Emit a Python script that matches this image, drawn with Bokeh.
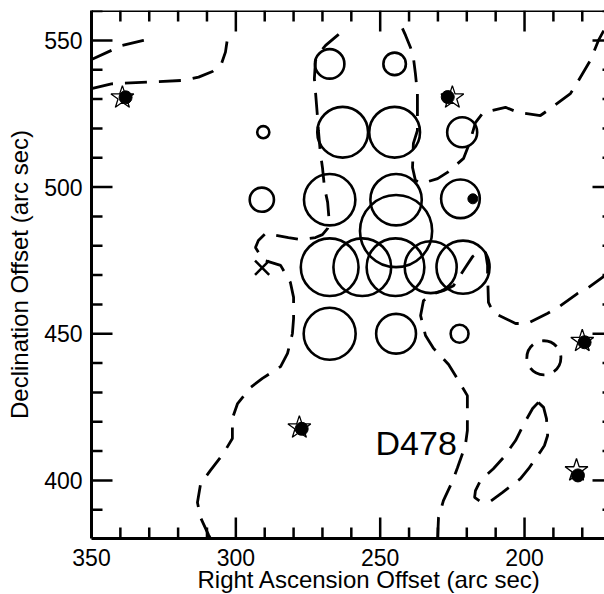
import math
from bokeh.plotting import figure
from bokeh.models import Range1d, SingleIntervalTicker, Label, Span, Title
from bokeh.embed import file_html
from bokeh.resources import INLINE

# ---------------- data ----------------
x_start, x_end = 350, 172.3
y_start, y_end = 380.2, 560.2

# tick positions
x_major = [350, 300, 250, 200]
x_minor = [340, 330, 320, 310, 290, 280, 270, 260, 240, 230, 220, 210, 190, 180]
y_major = [400, 450, 500, 550]
y_minor = [390, 410, 420, 430, 440, 460, 470, 480, 490, 510, 520, 530, 540, 560]

# open circles (position and radius, arc sec)
circ_x = [267.5, 245.0, 290.5, 263.0, 245.0, 221.6, 291.0, 267.5, 244.5, 222.2,
          244.5, 267.5, 256.2, 244.7, 232.5, 221.3, 267.5, 244.5, 222.5]
circ_y = [542.0, 542.0, 518.7, 518.7, 518.7, 518.7, 495.7, 495.7, 495.7, 496.0,
          485.0, 472.7, 472.7, 472.7, 472.7, 472.7, 450.0, 450.0, 450.0]
circ_r = [5.1, 3.9, 2.1, 8.8, 8.8, 5.2, 4.2, 8.9, 8.9, 6.7,
          12.5, 10.0, 10.0, 10.0, 9.0, 9.2, 9.0, 6.9, 3.1]

# stars and their filled dots
star_x = [339.3, 225.0, 180.0, 182.0, 278.0]
star_y = [530.5, 530.5, 447.5, 403.4, 418.0]
dot_x = [338.2, 226.6, 179.2, 181.5, 277.2]
dot_y = [530.6, 530.7, 447.1, 401.7, 417.6]

# filled dot inside a circle
fdot_x = [217.9]
fdot_y = [496.0]

# X marker
xm_x = [290.9]
xm_y = [472.5]

# dashed contours
c1_x = [350.0, 343.1, 339.3, 332.0, 328.9]
c1_y = [543.5, 546.6, 548.3, 550.0, 550.7]

c2_x = [350.0, 343.1, 329.9, 317.8, 312.9, 308.1, 305.0, 303.6, 302.9]
c2_y = [533.6, 535.2, 535.8, 536.4, 537.5, 539.4, 542.0, 546.0, 550.7]

c3_x = [308.8, 309.5, 312.2, 313.3, 312.2, 308.8, 304.3, 301.2, 301.2, 299.4,
        294.9, 290.8, 284.5, 282.1, 280.4, 280.0, 280.0, 281.1, 284.5, 288.7,
        290.4, 293.2, 292.2, 289.7, 281.8, 277.6, 272.4, 270.0, 268.2, 267.6,
        268.2, 269.3, 270.0, 270.7, 271.4, 271.7, 272.4, 272.8, 272.4, 270.7,
        268.9, 264.8, 263.1]
c3_y = [380.2, 381.5, 387.3, 392.5, 398.9, 403.4, 409.2, 414.3, 421.1, 426.2,
        431.7, 434.8, 438.8, 443.3, 450.1, 455.2, 462.4, 467.5, 473.3, 474.6,
        475.0, 479.4, 481.8, 484.2, 482.8, 482.1, 482.8, 483.8, 485.9, 487.6,
        494.8, 499.9, 506.7, 511.5, 519.3, 523.7, 532.3, 537.0, 543.2, 546.2,
        548.3, 551.7, 553.4]

c4_x = [242.3, 241.2, 239.5, 238.5, 237.8, 237.1, 237.1, 237.1, 238.5, 238.8,
        237.8, 235.7, 230.1, 226.7, 221.1, 219.1, 217.0, 214.3, 206.6, 202.1,
        194.5, 191.0, 184.1, 181.7, 177.2, 174.4, 171.6]
c4_y = [554.1, 551.7, 547.6, 544.2, 538.7, 531.9, 526.8, 519.3, 514.9, 506.7,
        502.3, 501.2, 502.9, 505.0, 509.8, 514.9, 522.0, 525.4, 527.2, 525.4,
        524.4, 526.8, 531.9, 535.7, 543.2, 550.0, 555.1]

c5_x = [171.6, 177.8, 181.7, 188.3, 192.1, 199.0, 203.1, 210.8, 212.5, 212.8,
        212.8, 213.5, 216.0, 218.0, 220.5, 224.6, 228.1, 231.5, 235.0, 236.0,
        234.3, 231.5, 226.3, 223.9, 219.8, 219.8, 219.8, 220.5, 223.2, 224.9,
        228.1, 229.8, 230.1]
c5_y = [470.2, 465.8, 463.7, 459.0, 456.9, 453.5, 453.5, 457.2, 460.7, 470.5,
        473.3, 477.7, 477.7, 476.3, 472.6, 466.4, 464.7, 463.7, 461.3, 456.2,
        449.4, 445.0, 439.5, 435.7, 428.9, 423.1, 417.0, 411.9, 404.4, 399.9,
        393.1, 387.3, 380.2]

c6_x = [195.2, 193.4, 192.4, 192.0, 193.1, 194.5, 198.6, 201.4, 207.6, 211.8,
        215.3, 217.3, 217.0, 215.3, 210.8, 207.3, 203.1, 200.3, 197.2, 195.2]
c6_y = [426.6, 424.9, 421.1, 415.3, 411.9, 409.8, 404.0, 400.6, 395.9, 392.9,
        392.8, 394.2, 396.5, 399.9, 404.0, 407.8, 413.6, 419.1, 424.5, 426.6]

ring_x = [193.3]
ring_y = [441.8]
ring_r = [5.9]

label_x, label_y, label_text = 251.6, 406.4, "D478"

x_title = "Right Ascension Offset (arc sec)"
y_title = "Declination Offset (arc sec)"

# ---------------- figure ----------------
FONT = "Liberation Sans"

p = figure(width=604, height=594,
           x_range=Range1d(x_start, x_end), y_range=Range1d(y_start, y_end),
           output_backend="svg", toolbar_location=None,
           min_border_left=91, min_border_right=0, min_border_top=10, min_border_bottom=56)
p.grid.visible = False
p.outline_line_color = None
p.background_fill_color = "white"
p.border_fill_color = "white"

for ax in p.axis:
    ax.ticker = SingleIntervalTicker(interval=50, num_minor_ticks=5)
    ax.axis_line_width = 3
    ax.axis_line_color = "black"
    ax.major_tick_in = 0
    ax.major_tick_out = 0
    ax.minor_tick_in = 0
    ax.minor_tick_out = 0
    ax.major_label_text_font = FONT
    ax.major_label_text_font_size = "23px"
    ax.major_label_text_color = "black"

p.xaxis[0].major_label_standoff = 10
p.yaxis[0].major_label_standoff = 9
p.yaxis[0].axis_label = y_title
p.yaxis[0].axis_label_text_font = FONT
p.yaxis[0].axis_label_text_font_size = "24px"
p.yaxis[0].axis_label_text_font_style = "normal"
p.yaxis[0].axis_label_text_color = "black"
p.yaxis[0].axis_label_standoff = 8

# x-axis title (shifted right of the frame centre, as in the original)
p.add_layout(Title(text=x_title, align="left", offset=106, vertical_align="bottom",
                   text_font=FONT, text_font_size="24px", text_font_style="normal",
                   text_color="black", standoff=-10), "below")

# top border of the frame
p.add_layout(Span(location=y_end, dimension="width", line_color="black", line_width=3))

# inward tick marks on all four sides
TW = 2.5
def ticks(xs, ys, length, angle):
    p.ray(x=xs, y=ys, length=length, angle=angle, length_units="screen",
          line_color="black", line_width=TW)

ticks(x_major, [y_start] * len(x_major), 21, math.pi / 2)
ticks(x_minor, [y_start] * len(x_minor), 11, math.pi / 2)
ticks(x_major, [y_end] * len(x_major), 21, -math.pi / 2)
ticks(x_minor, [y_end] * len(x_minor), 11, -math.pi / 2)
ticks([x_start] * len(y_major), y_major, 21, 0)
ticks([x_start] * len(y_minor), y_minor, 11, 0)
ticks([x_end] * len(y_major), y_major, 12, math.pi)
ticks([x_end] * len(y_minor), y_minor, 2, math.pi)

# contours
DASH = "22 12"
for cx, cy in [(c1_x, c1_y), (c2_x, c2_y), (c3_x, c3_y), (c4_x, c4_y),
               (c5_x, c5_y), (c6_x, c6_y)]:
    p.line(cx, cy, line_color="black", line_width=2.8, line_dash=DASH)
p.circle(x=ring_x, y=ring_y, radius=ring_r, fill_color=None, line_color="black",
         line_width=2.8, line_dash="16 10")

# circles
p.circle(x=circ_x, y=circ_y, radius=circ_r, fill_color=None, line_color="black",
         line_width=2.6)

# stars
p.scatter(star_x, star_y, marker="star", size=24, fill_color="white",
          line_color="black", line_width=1.3)
p.scatter(dot_x, dot_y, marker="circle", size=13, fill_color="black", line_color="black")
p.scatter(fdot_x, fdot_y, marker="circle", size=10, fill_color="black", line_color="black")
p.scatter(xm_x, xm_y, marker="x", size=20, line_color="black", line_width=2.5)

p.add_layout(Label(x=label_x, y=label_y, text=label_text, text_font=FONT,
                   text_font_size="34px", text_color="black"))

open("out.html", "w").write(file_html(p, INLINE))
